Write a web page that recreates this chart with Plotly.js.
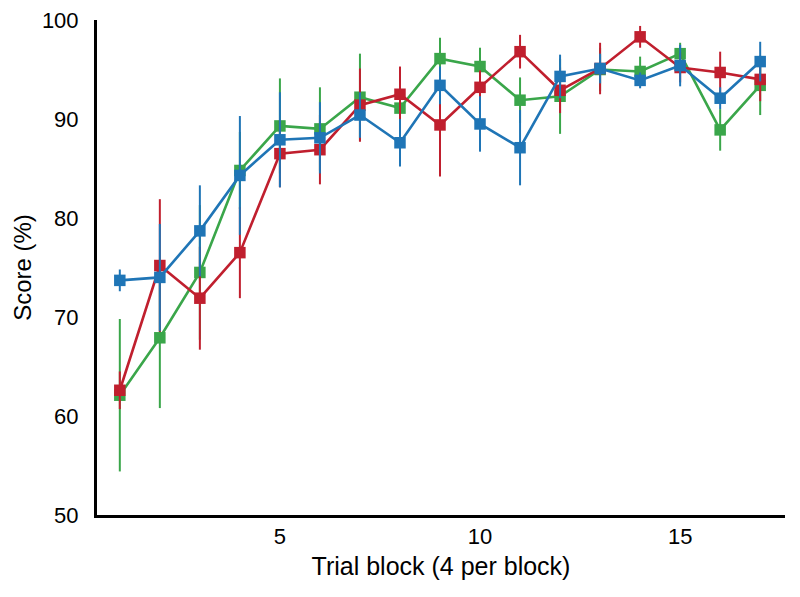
<!DOCTYPE html>
<html>
<head>
<meta charset="utf-8">
<script src="https://cdn.plot.ly/plotly-3.0.1.min.js"></script>
<style>html,body{margin:0;padding:0;background:#fff;}#chart{width:800px;height:597px;}</style>
</head>
<body>
<div id="chart"></div>
<script>
const blocks = [1,2,3,4,5,6,7,8,9,10,11,12,13,14,15,16,17];
const green = [62.1, 67.9, 74.5, 84.8, 89.3, 89.0, 92.2, 91.1, 96.1, 95.3, 91.9, 92.3, 95.0, 94.8, 96.6, 88.9, 93.4];
const greenErr = [7.7, 7.1, 6.8, 3.9, 4.8, 4.2, 4.4, 3.2, 2.1, 1.9, 2.3, 3.8, 2.2, 1.5, 1.1, 2.1, 3.0];
const red = [62.6, 75.2, 71.9, 76.5, 86.5, 86.9, 91.4, 92.5, 89.4, 93.2, 96.8, 92.9, 95.1, 98.3, 95.2, 94.7, 94.0];
const redErr = [1.9, 6.7, 5.2, 4.6, 3.4, 3.5, 3.7, 2.8, 5.2, 1.7, 1.7, 2.3, 2.6, 1.1, 1.5, 2.1, 2.2];
const blue = [73.7, 74.0, 78.7, 84.3, 87.9, 88.1, 90.4, 87.6, 93.4, 89.5, 87.1, 94.3, 95.1, 93.9, 95.4, 92.1, 95.8];
const blueErr = [1.1, 5.4, 4.6, 6.0, 4.8, 3.6, 2.3, 2.4, 1.9, 2.8, 3.8, 2.2, 1.5, 0.8, 2.1, 1.1, 2.0];
const xTicks = [5, 10, 15];
const yTicks = [50, 60, 70, 80, 90, 100];

function tr(y, err, color) {
  return {
    x: blocks, y: y, type: 'scatter', mode: 'lines+markers',
    line: {color: color, width: 2.6},
    marker: {symbol: 'square', size: 11.5, color: color},
    error_y: {type: 'data', array: err, visible: true, color: color, thickness: 2, width: 0},
    showlegend: false, hoverinfo: 'skip'
  };
}
const data = [tr(green, greenErr, '#3aa64a'), tr(red, redErr, '#c01f2e'), tr(blue, blueErr, '#1f75b6')];
const layout = {
  width: 800, height: 597,
  margin: {l: 97, r: 15, t: 20, b: 82},
  paper_bgcolor: '#fff', plot_bgcolor: '#fff',
  font: {family: 'Liberation Sans, Arial, sans-serif', size: 22, color: '#000'},
  xaxis: {
    range: [0.43, 17.62], tickvals: xTicks, ticktext: xTicks.map(String),
    showgrid: false, zeroline: false, showline: true, linecolor: '#000', linewidth: 3,
    ticks: '', ticklabelstandoff: 0, tickfont: {size: 22},
    title: {text: 'Trial block (4 per block)', font: {size: 25}, standoff: 10}
  },
  yaxis: {
    range: [50, 100], tickvals: yTicks, ticktext: yTicks.map(String),
    showgrid: false, zeroline: false, showline: true, linecolor: '#000', linewidth: 3,
    ticks: '', ticklabelstandoff: 11, tickfont: {size: 22},
    title: {text: 'Score (%)', font: {size: 24}, standoff: 4}
  }
};
Plotly.newPlot('chart', data, layout, {displayModeBar: false, staticPlot: true});
</script>
</body>
</html>
